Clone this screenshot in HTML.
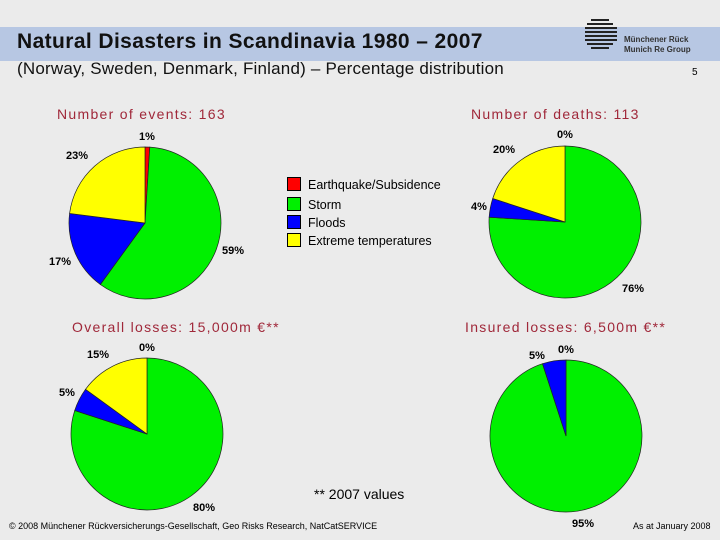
<!DOCTYPE html>
<html><head><meta charset="utf-8"><style>
body{margin:0;width:720px;height:540px;background:#ebebeb;font-family:"Liberation Sans",sans-serif;position:relative;overflow:hidden}
.t{position:absolute;white-space:nowrap}
.h{color:#a0283a;font-size:14px;letter-spacing:1.3px}
</style></head><body>
<div class="t" style="left:0;top:27px;width:720px;height:34px;background:#b7c7e3"></div>
<div class="t" style="left:17px;top:30px;font-size:21px;letter-spacing:0.4px;font-weight:bold;color:#111">Natural Disasters in Scandinavia 1980 – 2007</div>
<div class="t" style="left:17px;top:59px;font-size:17px;letter-spacing:0.2px;color:#111">(Norway, Sweden, Denmark, Finland) – Percentage distribution</div>
<div class="t" style="left:692px;top:67px;font-size:10px">5</div>
<div class="t" style="left:624px;top:35px;font-size:8px;font-weight:bold;color:#333;line-height:10px">Münchener Rück<br>Munich Re Group</div>
<svg class="t" style="left:583px;top:18px" width="36" height="34"><g stroke="#222" stroke-width="2"><line x1="8" y1="2" x2="26" y2="2"/><line x1="4" y1="6" x2="30" y2="6"/><line x1="2" y1="10" x2="34" y2="10"/><line x1="2" y1="14" x2="34" y2="14"/><line x1="2" y1="18" x2="34" y2="18"/><line x1="2" y1="22" x2="34" y2="22"/><line x1="4" y1="26" x2="30" y2="26"/><line x1="8" y1="30" x2="26" y2="30"/></g></svg>
<div class="t h" style="left:57px;top:106px">Number of events: 163</div>
<div class="t h" style="left:471px;top:106px">Number of deaths: 113</div>
<div class="t h" style="left:72px;top:319px">Overall losses: 15,000m €**</div>
<div class="t h" style="left:465px;top:319px">Insured losses: 6,500m €**</div>
<svg id="pies" class="t" style="left:0;top:0" width="720" height="540"></svg>
<div class="t" style="left:287px;top:176px;font-size:12.5px;line-height:18px">
<div style="margin-bottom:2px"><span style="display:inline-block;width:12px;height:12px;background:#f00;border:1px solid #000;vertical-align:-2px;margin-right:7px"></span>Earthquake/Subsidence</div>
<div><span style="display:inline-block;width:12px;height:12px;background:#00f000;border:1px solid #000;vertical-align:-2px;margin-right:7px"></span>Storm</div>
<div><span style="display:inline-block;width:12px;height:12px;background:#00f;border:1px solid #000;vertical-align:-2px;margin-right:7px"></span>Floods</div>
<div><span style="display:inline-block;width:12px;height:12px;background:#ff0;border:1px solid #000;vertical-align:-2px;margin-right:7px"></span>Extreme temperatures</div>
</div>
<div class="t" style="left:314px;top:486px;font-size:14px">** 2007 values</div>
<div class="t" style="left:9px;top:521px;font-size:9px">© 2008 Münchener Rückversicherungs-Gesellschaft, Geo Risks Research, NatCatSERVICE</div>
<div class="t" style="left:633px;top:521px;font-size:9px">As at January 2008</div>
<script>
const colors=["#ff0000","#00f000","#0000ff","#ffff00"];
const events=[1,59,17,23];
const deaths=[0,76,4,20];
const overall=[0,80,5,15];
const insured=[0,95,5,0];
const pies=[
 {name:"events-pie",vals:events,cx:145,cy:223,labels:[[139,140],[222,254],[49,265],[66,159]]},
 {name:"deaths-pie",vals:deaths,cx:565,cy:222,labels:[[557,138],[622,292],[471,210],[493,153]]},
 {name:"overall-pie",vals:overall,cx:147,cy:434,labels:[[139,351],[193,511],[59,396],[87,358]]},
 {name:"insured-pie",vals:insured,cx:566,cy:436,labels:[[558,353],[572,527],[529,359],[0,0]]}
];
const R=76,svg=document.getElementById("pies"),NS="http://www.w3.org/2000/svg";
pies.forEach(p=>{
 const g=document.createElementNS(NS,"g");
 
 
 svg.appendChild(g);
 const tot=p.vals.reduce((a,b)=>a+b,0);let a=0;
 p.vals.forEach((v,i)=>{
  if(v<=0)return;
  const a0=a/tot*2*Math.PI,a1=(a+v)/tot*2*Math.PI;a+=v;
  const x0=p.cx+R*Math.sin(a0),y0=p.cy-R*Math.cos(a0),x1=p.cx+R*Math.sin(a1),y1=p.cy-R*Math.cos(a1);
  const el=document.createElementNS(NS,"path");
  el.setAttribute("d",`M${p.cx},${p.cy}L${x0},${y0}A${R},${R} 0 ${a1-a0>Math.PI?1:0} 1 ${x1},${y1}Z`);
  el.setAttribute("fill",colors[i]);el.setAttribute("stroke","#222");el.setAttribute("stroke-width","0.7");
  
  
  g.appendChild(el);
 });
 p.vals.forEach((v,i)=>{
  if(p.name==="insured-pie"&&i===3)return;
  const t=document.createElementNS(NS,"text");
  t.setAttribute("x",p.labels[i][0]);t.setAttribute("y",p.labels[i][1]);
  t.setAttribute("font-size","11");t.setAttribute("font-weight","bold");t.setAttribute("font-family","Liberation Sans, sans-serif");
  t.textContent=v+"%";
  
  
  g.appendChild(t);
 });
});
</script>
</body></html>
